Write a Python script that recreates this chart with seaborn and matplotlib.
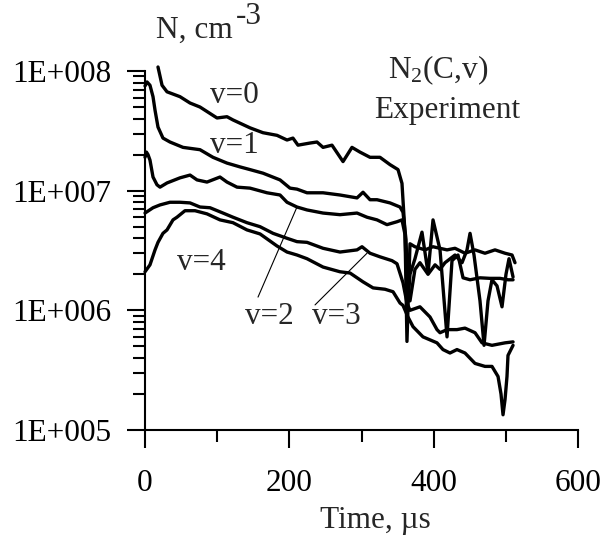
import numpy as np
import pandas as pd
import seaborn as sns
import matplotlib.pyplot as plt
from matplotlib.ticker import FixedLocator, FuncFormatter, LogLocator, NullFormatter

# N2(C,v) populations: time in us, density in cm^-3
t_v0 = [18, 23.6, 30.5, 48.5, 62.4, 76.2, 99.8, 113.6, 121.9, 145.5, 163.5, 182.9,
        196.8, 205, 212, 228.6, 238.3, 246.7, 259.1, 274.4, 286.8, 297.9, 311.8,
        325.6, 339.5, 350.6, 356.1, 360.3, 363, 367.2, 374, 388, 399, 418.5, 429.6,
        443.4, 457.3, 471.1, 485, 498.9, 508.6, 512.7]
n_v0 = [1.08e8, 7.6e7, 6.7e7, 6.1e7, 5.4e7, 5.0e7, 4.05e7, 4.15e7, 3.9e7, 3.35e7,
        3.05e7, 2.9e7, 2.65e7, 2.75e7, 2.4e7, 2.5e7, 2.55e7, 2.3e7, 2.4e7, 1.75e7,
        2.3e7, 2.1e7, 1.9e7, 1.9e7, 1.65e7, 1.5e7, 1.15e7, 4.4e6, 5.5e5, 3.6e6,
        3.4e6, 3.2e6, 3.4e6, 3.2e6, 3.3e6, 3.0e6, 3.2e6, 3.0e6, 3.2e6, 3.0e6,
        2.9e6, 2.5e6]

t_v1 = [0, 2.8, 6.9, 11.1, 13.9, 18, 24.9, 34.6, 52.7, 76.2, 94.2, 113.6, 131.6,
        145.5, 163.5, 187.1, 200.9, 210.6, 224.5, 246.7, 270.2, 293.8, 302.1, 311.8,
        321.5, 339.5, 353.4, 357.5, 361.7, 364.4, 367.2, 374.1, 383.8, 392.2, 399.1,
        408.8, 418.5, 425.4, 433.7, 440.7, 450.4, 464.2, 478.1, 491.9, 503, 510]
n_v1 = [7.5e7, 8.1e7, 7.6e7, 6.1e7, 4.7e7, 3.4e7, 2.75e7, 2.55e7, 2.3e7, 2.2e7,
        1.9e7, 1.7e7, 1.58e7, 1.5e7, 1.4e7, 1.23e7, 1.05e7, 1.03e7, 9.6e6, 9.6e6,
        9.2e6, 8.7e6, 9.7e6, 8.4e6, 8.4e6, 7.9e6, 7.3e6, 6.6e6, 3.9e6, 1.2e6,
        2.0e6, 2.7e6, 4.5e6, 2.05e6, 5.7e6, 3.2e6, 6.0e5, 2.6e6, 2.9e6, 1.87e6,
        1.8e6, 1.87e6, 1.85e6, 1.85e6, 1.8e6, 1.8e6]

t_v2 = [0, 2, 4.2, 6.9, 11.1, 16.6, 20.8, 30.5, 48.5, 62.4, 72.1, 85.9, 103.9, 113.6,
        127.5, 145.5, 169.1, 187.1, 196.8, 210.6, 224.5, 246.7, 270.2, 293.8, 307.6,
        321.5, 335.3, 349.2, 356.1, 360.3, 363, 367.2, 374.1, 381, 392.2, 401.9,
        408.8, 415.7, 429.6, 439.3, 446.2, 450.4, 455.9, 464.2, 469.8, 475.3, 480.8,
        487.8, 494.7, 500.2, 504.4, 510]
n_v2 = [1.9e7, 2.1e7, 2.0e7, 1.8e7, 1.3e7, 1.12e7, 1.07e7, 1.16e7, 1.28e7, 1.35e7,
        1.23e7, 1.18e7, 1.3e7, 1.18e7, 1.07e7, 1.05e7, 9.6e6, 9.2e6, 8.0e6, 7.3e6,
        6.9e6, 6.5e6, 6.3e6, 6.5e6, 6.0e6, 5.7e6, 5.2e6, 5.5e6, 5.7e6, 4.3e6,
        1.5e6, 1.2e6, 2.2e6, 2.5e6, 2.0e6, 2.4e6, 2.2e6, 2.5e6, 2.9e6, 2.5e6,
        3.2e6, 4.4e6, 2.9e6, 1.2e6, 5.1e5, 1.2e6, 1.8e6, 1.6e6, 1.07e6, 2.0e6,
        2.7e6, 1.9e6]

t_v3 = [0, 11.1, 20.8, 34.6, 48.5, 62.4, 76.2, 90.1, 108.1, 121.9, 141.3, 159.4,
        177.4, 196.8, 210.6, 224.5, 246.7, 270.2, 293.8, 300.7, 311.8, 325.6, 342.3,
        349.2, 357.5, 363, 367.2, 381, 394.9, 404.6, 408.8, 418.5, 432.3, 443.4,
        457.3, 467, 480.8, 498.9, 510]
n_v3 = [6.5e6, 7.2e6, 7.6e6, 8.0e6, 8.0e6, 7.9e6, 7.3e6, 7.2e6, 6.5e6, 6.0e6,
        5.4e6, 5.0e6, 4.4e6, 4.0e6, 3.75e6, 3.7e6, 3.3e6, 3.07e6, 3.2e6, 3.4e6,
        3.0e6, 2.8e6, 2.6e6, 2.45e6, 1.7e6, 1.15e6, 1.0e6, 1.07e6, 8.8e5, 6.9e5,
        6.5e5, 6.9e5, 6.9e5, 7.1e5, 6.5e5, 5.35e5, 5.1e5, 5.35e5, 5.45e5]

t_v4 = [0, 6.9, 13.9, 18, 24.9, 30.5, 38.8, 44.3, 55.4, 69.3, 85.9, 103.9, 121.9,
        141.3, 159.4, 182.9, 196.8, 210.6, 224.5, 246.7, 270.2, 284.1, 302.1, 316,
        332.6, 343.7, 353.4, 357.5, 364.4, 371.4, 385.2, 404.6, 412.9, 422.6, 432.3,
        443.4, 457.3, 471.1, 480.8, 489.2, 493.3, 496.1, 498.9, 501.6, 503, 510]
n_v4 = [2.1e6, 2.4e6, 3.2e6, 3.7e6, 4.4e6, 4.7e6, 5.7e6, 6.0e6, 6.8e6, 6.8e6,
        6.4e6, 5.7e6, 5.4e6, 4.7e6, 4.35e6, 3.45e6, 3.07e6, 2.9e6, 2.7e6, 2.3e6,
        2.1e6, 2.05e6, 1.73e6, 1.54e6, 1.5e6, 1.43e6, 1.15e6, 1.1e6, 8.8e5, 7.3e5,
        6.0e5, 5.35e5, 4.7e5, 4.4e5, 4.7e5, 4.4e5, 3.6e5, 3.4e5, 3.4e5, 2.8e5,
        2.0e5, 1.34e5, 1.8e5, 2.8e5, 4.2e5, 5.1e5]

series = {"v=0": (t_v0, n_v0), "v=1": (t_v1, n_v1), "v=2": (t_v2, n_v2),
          "v=3": (t_v3, n_v3), "v=4": (t_v4, n_v4)}

sns.set_theme(style="ticks")
plt.rcParams["font.family"] = ["Liberation Serif", "DejaVu Serif"]
plt.rcParams["mathtext.fontset"] = "custom"
plt.rcParams["mathtext.rm"] = "Liberation Serif"
plt.rcParams["mathtext.default"] = "regular"

fs = 22.5
dpi = 100
fig = plt.figure(figsize=(601 / dpi, 538 / dpi), dpi=dpi)
fig.patch.set_facecolor("white")
ax = fig.add_axes([145 / 601, 1 - 430 / 538, 433 / 601, 359 / 538])
ax.set_facecolor("white")

for name, (t, n) in series.items():
    df = pd.DataFrame({"t": t, "n": n})
    sns.lineplot(data=df, x="t", y="n", ax=ax, color="black", lw=2.4,
                 sort=False, estimator=None, clip_on=False)

ax.set_yscale("log")
ax.set_xlim(0, 600)
ax.set_ylim(1e5, 1e8)
ax.set_xlabel("")
ax.set_ylabel("")

ax.xaxis.set_major_locator(FixedLocator([0, 200, 400, 600]))
ax.xaxis.set_minor_locator(FixedLocator([100, 300, 500]))
ax.yaxis.set_major_locator(FixedLocator([1e5, 1e6, 1e7, 1e8]))
ax.yaxis.set_minor_locator(LogLocator(base=10, subs=np.arange(2, 10), numticks=20))
ax.yaxis.set_major_formatter(FuncFormatter(lambda v, p: "1E+%03d" % round(np.log10(v))))
ax.yaxis.set_minor_formatter(NullFormatter())

for s in ["top", "right"]:
    ax.spines[s].set_visible(False)
for s in ["left", "bottom"]:
    ax.spines[s].set_linewidth(1.5)
    ax.spines[s].set_color("black")

ax.tick_params(which="major", direction="out", length=13, width=1.5, color="black",
               labelsize=fs, labelcolor="black")
ax.tick_params(axis="x", which="major", pad=15)
ax.tick_params(axis="y", which="major", pad=11)
ax.tick_params(which="minor", direction="out", length=8.5, width=1.5, color="black")

# curve labels and leader lines
ax.text(90, 5.41e7, "v=0", fontsize=fs, va="baseline")
ax.text(90, 2.07e7, "v=1", fontsize=fs, va="baseline")
ax.text(44, 2.17e6, "v=4", fontsize=fs, va="baseline")
ax.text(138, 7.7e5, "v=2", fontsize=fs, va="baseline")
ax.text(231, 7.7e5, "v=3", fontsize=fs, va="baseline")
ax.annotate("", xy=(210.6, 7.3e6), xytext=(156.6, 1.29e6),
            arrowprops=dict(arrowstyle="-", lw=0.8, color="black", shrinkA=0, shrinkB=0))
ax.annotate("", xy=(307.6, 3.0e6), xytext=(235.6, 1.11e6),
            arrowprops=dict(arrowstyle="-", lw=0.8, color="black", shrinkA=0, shrinkB=0))

# titles
fig.text(156 / 601, 1 - 38 / 538, "N, cm", fontsize=fs, va="baseline", ha="left")
fig.text(236 / 601, 1 - 24 / 538, "-3", fontsize=fs, va="baseline", ha="left")
fig.text(438 / 601, 1 - 78 / 538, "N$_2$(C,v)", fontsize=fs, va="baseline", ha="center")
fig.text(447 / 601, 1 - 118 / 538, "Experiment", fontsize=fs, va="baseline", ha="center")
fig.text(375 / 601, 1 - 528 / 538, "Time, \u00b5s", fontsize=fs, va="baseline", ha="center")

fig.savefig("out.png", dpi=dpi, facecolor="white")
